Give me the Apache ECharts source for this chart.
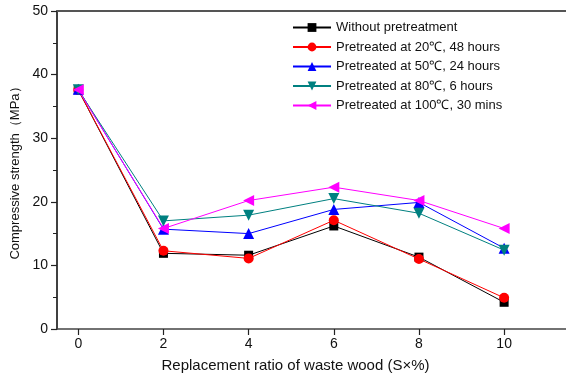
<!DOCTYPE html>
<html>
<head>
<meta charset="utf-8">
<script src="https://cdn.jsdelivr.net/npm/echarts@6/dist/echarts.min.js"></script>
<style>
  html, body { margin: 0; padding: 0; background: #fff; }
  #chart { width: 566px; height: 376px; }
</style>
</head>
<body>
<div id="chart"></div>
<script>
// Replacement ratio of waste wood (%)
const ratios = [0, 2, 4, 6, 8, 10];

// Compressive strength (MPa) per pretreatment condition
const withoutPretreatment = [37.6, 11.9, 11.6, 16.2, 11.3, 4.2];
const pre20C48h = [37.6, 12.3, 11.1, 17.1, 11.0, 4.9];
const pre50C24h = [37.7, 15.7, 15.0, 18.8, 19.9, 12.7];
const pre80C6h = [37.6, 17.0, 17.9, 20.5, 18.2, 12.4];
const pre100C30min = [37.6, 15.8, 20.2, 22.3, 20.2, 15.8];

const seriesNames = [
  'Without pretreatment',
  'Pretreated at 20\u2103, 48 hours',
  'Pretreated at 50\u2103, 24 hours',
  'Pretreated at 80\u2103, 6 hours',
  'Pretreated at 100\u2103, 30 mins'
];

const xTicks = [0, 2, 4, 6, 8, 10];

const pairs = (vals) => ratios.map((r, i) => [r, vals[i]]);

const font = 'Liberation Sans, Arial, sans-serif';

function lineSeries(name, vals, color, symbol, size, rotate) {
  return {
    name: name,
    type: 'line',
    data: pairs(vals),
    symbol: symbol,
    symbolSize: size,
    symbolRotate: rotate || 0,
    showAllSymbol: true,
    lineStyle: { color: color, width: 1 },
    itemStyle: { color: color, opacity: 1 },
    emphasis: { disabled: true },
    z: 3
  };
}

const chart = echarts.init(document.getElementById('chart'), null, { renderer: 'canvas' });

chart.setOption({
  animation: false,
  backgroundColor: '#ffffff',
  grid: { left: 57, top: 11, width: 511, height: 318, containLabel: false, outerBoundsMode: 'none' },
  legend: {
    orient: 'vertical',
    left: 287,
    top: 16,
    itemWidth: 38,
    itemHeight: 11,
    itemGap: 6.5,
    textStyle: { fontFamily: font, fontSize: 13, color: '#111' },
    data: seriesNames
  },
  xAxis: [{
    type: 'value',
    min: -0.5,
    max: 11.5,
    position: 'bottom',
    axisLine: { show: true, onZero: false, lineStyle: { color: '#444', width: 1.5 } },
    axisTick: { show: true, inside: false, length: 6, lineStyle: { color: '#222', width: 1.2 },
      customValues: xTicks },
    axisLabel: { fontFamily: font, fontSize: 14, color: '#111', margin: 8, customValues: xTicks },
    splitLine: { show: false },
    name: 'Replacement ratio of waste wood (S\u00d7%)',
    nameLocation: 'middle',
    nameGap: 29,
    nameTextStyle: { fontFamily: font, fontSize: 15, color: '#111', padding: [0, 0, 0, -34] }
  }, {
    type: 'value',
    min: -0.5,
    max: 11.5,
    position: 'top',
    axisLine: { show: true, onZero: false, lineStyle: { color: '#555', width: 2 } },
    axisTick: { show: false },
    axisLabel: { show: false },
    splitLine: { show: false }
  }],
  yAxis: {
    type: 'value',
    min: 0,
    max: 50,
    interval: 10,
    axisLine: { show: true, onZero: false, lineStyle: { color: '#000', width: 1.5 } },
    axisTick: { show: true, length: 6, lineStyle: { color: '#222', width: 1.2 } },
    minorTick: { show: true, splitNumber: 2, length: 4, lineStyle: { color: '#222', width: 1 } },
    axisLabel: { fontFamily: font, fontSize: 14, color: '#111', margin: 9 },
    splitLine: { show: false },
    name: 'Compressive strength\uff08MPa\uff09',
    nameLocation: 'middle',
    nameGap: 34,
    nameTextStyle: { fontFamily: font, fontSize: 13, color: '#111' }
  },
  series: [
    lineSeries(seriesNames[0], withoutPretreatment, '#000000', 'rect', 9),
    lineSeries(seriesNames[1], pre20C48h, '#ff0000', 'circle', 10),
    lineSeries(seriesNames[2], pre50C24h, '#0000ff', 'triangle', 11),
    lineSeries(seriesNames[3], pre80C6h, '#008080', 'triangle', 11, 180),
    lineSeries(seriesNames[4], pre100C30min, '#ff00ff', 'triangle', 11, 90)
  ]
});
</script>
</body>
</html>
